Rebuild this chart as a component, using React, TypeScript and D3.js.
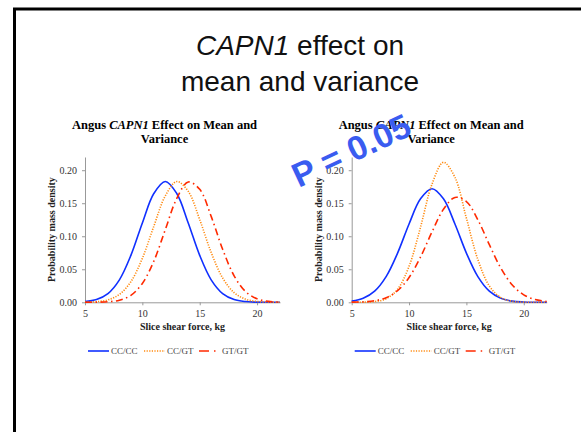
import React, { useEffect, useRef } from "react";
import * as d3 from "d3";

// slice shear force (kg) sample points
const shearForce = [5, 6, 7, 8, 9, 10, 11, 12, 13, 14, 15, 16, 17, 18, 19, 20, 21, 22];

// left panel: mean effect only
const leftCCCC = [0.0011, 0.0042, 0.0132, 0.034, 0.071, 0.1201, 0.1647, 0.183, 0.1647, 0.1201, 0.071, 0.034, 0.0132, 0.0042, 0.0011, 0.0002, 0.0, 0.0];
const leftCCGT = [0.0002, 0.0009, 0.0037, 0.0119, 0.0312, 0.0666, 0.1151, 0.1611, 0.1828, 0.168, 0.1252, 0.0755, 0.0369, 0.0146, 0.0047, 0.0012, 0.0003, 0.0];
const leftGTGT = [0.0, 0.0002, 0.0008, 0.0032, 0.0106, 0.0286, 0.0623, 0.11, 0.1573, 0.1822, 0.1711, 0.1301, 0.0802, 0.0401, 0.0162, 0.0053, 0.0014, 0.0003];

// right panel: mean and variance effect
const rightCCCC = [0.0018, 0.0061, 0.0169, 0.0389, 0.0745, 0.1186, 0.1567, 0.172, 0.1567, 0.1186, 0.0745, 0.0389, 0.0169, 0.0061, 0.0018, 0.0005, 0.0001, 0.0];
const rightCCGT = [0.0, 0.0002, 0.0011, 0.0054, 0.0197, 0.0545, 0.1137, 0.1788, 0.2119, 0.1892, 0.1273, 0.0646, 0.0247, 0.0071, 0.0015, 0.0003, 0.0, 0.0];
const rightGTGT = [0.0002, 0.0007, 0.0024, 0.007, 0.0176, 0.0376, 0.0686, 0.1065, 0.1408, 0.1588, 0.1526, 0.1249, 0.0872, 0.0518, 0.0263, 0.0113, 0.0042, 0.0013];

const genotypes = ["CC/CC", "CC/GT", "GT/GT"];
const xTicks = [5, 10, 15, 20];
const yTicks = [0, 0.05, 0.1, 0.15, 0.2];

const panels = [
  { left: 85, series: [leftCCCC, leftCCGT, leftGTGT] },
  { left: 351.7, series: [rightCCCC, rightCCGT, rightGTGT] },
];

const lineStyles = [
  { color: "#1030ff", dash: null },
  { color: "#ff8a10", dash: "1.2,1.4" },
  { color: "#ff2a00", dash: "7,3.5,1.5,3.5" },
];

const serif = "'Liberation Serif', 'Times New Roman', serif";
const sans = "'Liberation Sans', Arial, sans-serif";

export default function App() {
  const ref = useRef<SVGSVGElement>(null);

  useEffect(() => {
    const svg = d3.select(ref.current);
    svg.selectAll("*").remove();

    // slide frame
    svg.append("rect")
      .attr("x", 14.5).attr("y", 9)
      .attr("width", 700).attr("height", 600)
      .attr("fill", "none").attr("stroke", "#000").attr("stroke-width", 3);

    // slide title
    const title = svg.append("text")
      .attr("text-anchor", "middle")
      .style("font-family", sans)
      .style("font-size", "28px")
      .attr("fill", "#111");
    const t1 = title.append("tspan").attr("x", 300).attr("y", 55);
    t1.append("tspan").style("font-style", "italic").text("CAPN1");
    t1.append("tspan").text(" effect on");
    title.append("tspan").attr("x", 300).attr("y", 91).text("mean and variance");

    const width = 195;
    const top = 157, bottom = 302.3;

    panels.forEach((p) => {
      const x = d3.scaleLinear().domain([5, 22]).range([p.left, p.left + width]);
      const y = d3.scaleLinear().domain([0, 0.22]).range([bottom, top]);
      const g = svg.append("g");

      // chart title
      const cx = p.left + 79.5;
      const ct = g.append("text")
        .attr("text-anchor", "middle")
        .style("font-family", serif)
        .style("font-size", "12.5px")
        .style("font-weight", "bold");
      const l1 = ct.append("tspan").attr("x", cx).attr("y", 129);
      l1.append("tspan").text("Angus ");
      l1.append("tspan").style("font-style", "italic").text("CAPN1");
      l1.append("tspan").text(" Effect on Mean and");
      ct.append("tspan").attr("x", cx).attr("y", 143).text("Variance");

      // axes
      const xAxis = g.append("g")
        .attr("transform", `translate(0,${bottom})`)
        .call(d3.axisBottom(x).tickValues(xTicks).tickSize(3).tickSizeOuter(0));
      const yAxis = g.append("g")
        .attr("transform", `translate(${p.left},0)`)
        .call(d3.axisLeft(y).tickValues(yTicks).tickFormat(d3.format(".2f")).tickSize(3).tickSizeOuter(0));
      [xAxis, yAxis].forEach((a) => {
        a.selectAll("path, line").attr("stroke", "#999");
        a.selectAll("text")
          .style("font-family", serif)
          .style("font-size", "10px")
          .attr("fill", "#333");
      });
      xAxis.selectAll("text").attr("dy", "0.9em");
      yAxis.selectAll("text").attr("x", -8);

      // axis titles
      g.append("text")
        .attr("x", p.left + width / 2).attr("y", 330)
        .attr("text-anchor", "middle")
        .style("font-family", serif).style("font-size", "10px").style("font-weight", "bold")
        .attr("fill", "#222")
        .text("Slice shear force, kg");
      g.append("text")
        .attr("transform", `translate(${p.left - 30},${(top + bottom) / 2}) rotate(-90)`)
        .attr("text-anchor", "middle")
        .style("font-family", serif).style("font-size", "10px").style("font-weight", "bold")
        .attr("fill", "#222")
        .text("Probability mass density");

      // density curves
      const line = d3.line<number>()
        .x((_, i) => x(shearForce[i]))
        .y((d) => y(d))
        .curve(d3.curveCatmullRom.alpha(0.5));
      p.series.forEach((s, i) => {
        g.append("path")
          .datum(s)
          .attr("d", line)
          .attr("fill", "none")
          .attr("stroke", lineStyles[i].color)
          .attr("stroke-width", 1.6)
          .attr("stroke-dasharray", lineStyles[i].dash);
      });

      // legend
      const legendX = [p.left + 3, p.left + 59, p.left + 114];
      genotypes.forEach((name, i) => {
        g.append("line")
          .attr("x1", legendX[i]).attr("x2", legendX[i] + 21)
          .attr("y1", 351).attr("y2", 351)
          .attr("stroke", lineStyles[i].color)
          .attr("stroke-width", 1.6)
          .attr("stroke-dasharray", i === 2 ? "10,5,1.5,5" : lineStyles[i].dash);
        g.append("text")
          .attr("x", legendX[i] + 23).attr("y", 354)
          .style("font-family", serif).style("font-size", "9px")
          .attr("fill", "#444")
          .text(name);
      });
    });

    // significance stamp
    svg.append("text")
      .attr("transform", "translate(351,150) rotate(-25)")
      .attr("text-anchor", "middle")
      .attr("dy", "0.36em")
      .style("font-family", sans)
      .style("font-size", "34px")
      .style("font-weight", "bold")
      .attr("fill", "#3a5cf0")
      .text("P = 0.05");
  }, []);

  return (
    <svg
      ref={ref}
      width={581}
      height={432}
      style={{ position: "absolute", left: 0, top: 0, background: "#fff" }}
    />
  );
}
